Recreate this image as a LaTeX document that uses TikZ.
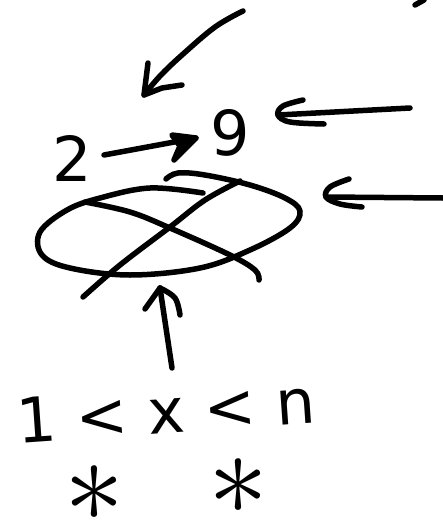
\documentclass[tikz,border=0pt]{standalone}
\usepackage{fontspec}
\setmainfont{DejaVu Sans}
\begin{document}
\begin{tikzpicture}[x=1pt,y=-1pt,
  ink/.style={line width=5.5pt,line cap=round,line join=round},
  hand/.style={font=\fontsize{62}{62}\selectfont,inner sep=0pt},
  star/.style={font=\fontsize{10}{10}\selectfont,inner sep=0pt,scale=12}]
\useasboundingbox (0,0) rectangle (443,525);
\fill[white] (0,0) rectangle (443,525);
% texts
\node[hand] (two) at (72,158) {2};
\node[hand] (nine) at (230,133) {9};
\node[hand,rotate=4] (ineq) at (166,411) {1 < x < n};
\node[star] (starA) at (94,494) {$\ast$};
\node[star] (starB) at (238,487) {$\ast$};
% named points
\coordinate (mark1) at (415,5);
\coordinate (mark2) at (424,0);
\coordinate (topA) at (243,11);
\coordinate (topTip) at (144,95);
\coordinate (twoEnd) at (104,155);
\coordinate (nineTip) at (196,138);
\coordinate (rA) at (410,108);
\coordinate (rATip) at (278,115);
\coordinate (rB) at (443,198);
\coordinate (rBTip) at (326,197);
\coordinate (upStart) at (172,368);
\coordinate (upTip) at (160,288);
% stray mark
\draw[ink] (mark1) -- (mark2);
% arrow from top
\draw[ink] plot[smooth,tension=0.6] coordinates {(topA) (215,27) (182,55) (160,76) (topTip)};
\draw[ink] (148,63) -- (topTip) -- (162,88) -- (182,85);
% arrow 2 -> 9
\draw[ink] (twoEnd) -- (nineTip);
\filldraw[ink] (172,135) -- (nineTip) -- (174,160) -- (180,146) -- cycle;
% arrow to 9
\draw[ink] (rA) -- (rATip);
\draw[ink] plot[smooth,tension=0.6] coordinates {(303,100) (283,106) (rATip) (290,122) (324,124)};
% arrow to ellipse
\draw[ink] (rB) -- (rBTip);
\draw[ink] plot[smooth,tension=0.6] coordinates {(349,179) (330,187) (rBTip) (340,204) (362,207)};
% ellipse
\draw[ink] plot[smooth,tension=0.6] coordinates {(203,193) (150,188) (100,198) (67,210) (40,232) (42,255) (70,268) (130,275) (200,268) (250,250) (290,228) (300,211) (285,198) (250,185) (205,175) (178,173) (166,179)};
% cross lines
\draw[ink] plot[smooth,tension=0.6] coordinates {(85,202) (130,212) (170,228) (230,255) (255,270) (259,280)};
\draw[ink] plot[smooth,tension=0.6] coordinates {(240,181) (205,200) (170,227) (120,265) (83,297)};
% arrow up
\draw[ink] (upStart) -- (upTip);
\draw[ink] (145,309) -- (upTip);
\draw[ink] plot[smooth,tension=0.6] coordinates {(upTip) (175,298) (180,315)};
\end{tikzpicture}
\end{document}
